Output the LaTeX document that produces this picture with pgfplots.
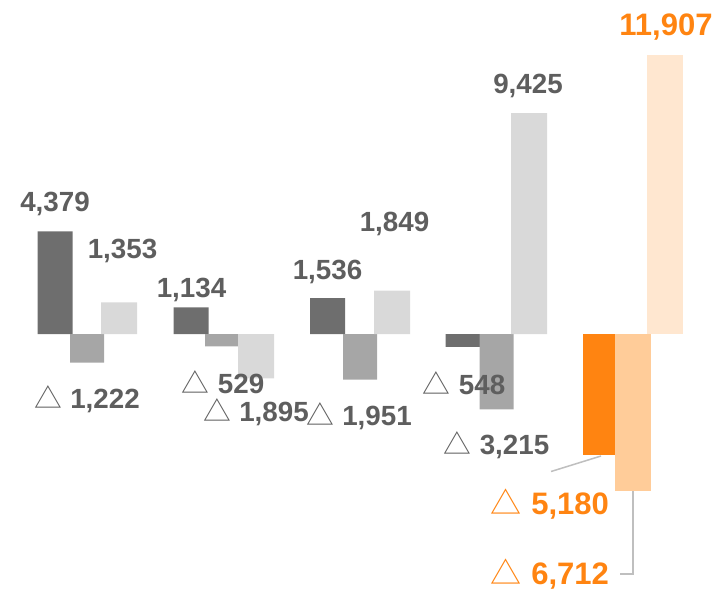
\documentclass[border=0pt]{standalone}
\usepackage{pgfplots}
\pgfplotsset{compat=1.18}
\usepackage{fontspec}
\setmainfont{Liberation Sans}
\newfontfamily\cjk{Noto Sans CJK JP}
\definecolor{txt}{HTML}{5E5E5E}
\definecolor{dk}{HTML}{6E6E6E}
\definecolor{md}{HTML}{A6A6A6}
\definecolor{lt}{HTML}{D9D9D9}
\definecolor{or}{HTML}{FF8411}
\definecolor{lor}{HTML}{FFCC99}
\definecolor{pch}{HTML}{FFE7D0}
\definecolor{ldr}{HTML}{BFBFBF}
\newcommand{\tri}{{\cjk\mdseries △}\hspace{0.3em}}
\tikzset{
  lab/.style={font=\fontsize{11}{13}\selectfont\bfseries, text=txt, inner sep=0pt},
  olab/.style={font=\fontsize{12.3}{14}\selectfont\bfseries, text=or, inner sep=0pt},
}
\begin{document}
\begin{tikzpicture}
\begin{axis}[
  scale only axis, width=10cm, height=8.203cm,
  xmin=0, xmax=718, ymin=-10883, ymax=14255,
  enlargelimits=false, hide axis, clip=false,
]
% gray series
\addplot[ybar, bar width=35, bar shift=0pt, fill=dk, draw=none] coordinates {(55,4379) (191,1134) (327.5,1536) (463,-548)};
\addplot[ybar, bar width=34, bar shift=0pt, fill=md, draw=none] coordinates {(87,-1222) (222,-529) (360,-1951) (496.5,-3215)};
\addplot[ybar, bar width=36, bar shift=0pt, fill=lt, draw=none] coordinates {(119,1353) (256,-1895) (392,1849) (529,9425)};
% orange series
\addplot[ybar, bar width=32, bar shift=0pt, fill=or, draw=none] coordinates {(599,-5180)};
\addplot[ybar, bar width=36, bar shift=0pt, fill=lor, draw=none] coordinates {(633,-6712)};
\addplot[ybar, bar width=36, bar shift=0pt, fill=pch, draw=none] coordinates {(665,11907)};
% leader lines
\draw[ldr, line width=0.6pt] (axis cs:601,-5207) -- (axis cs:551,-5869);
\draw[ldr, line width=0.6pt] (axis cs:633,-6712) -- (axis cs:633,-10243) -- (axis cs:620,-10243);
% labels
\node[lab] at (axis cs:55,5548) {4,379};
\node[lab] at (axis cs:122.5,3542) {1,353};
\node[lab] at (axis cs:87,-2774) {\tri 1,222};
\node[lab] at (axis cs:191.5,1878) {1,134};
\node[lab] at (axis cs:223,-2070) {\tri 529};
\node[lab] at (axis cs:256,-3350) {\tri 1,895};
\node[lab] at (axis cs:327.5,2646) {1,536};
\node[lab] at (axis cs:394.5,4695) {1,849};
\node[lab] at (axis cs:359,-3500) {\tri 1,951};
\node[lab] at (axis cs:464,-2091) {\tri 548};
\node[lab] at (axis cs:496.5,-4738) {\tri 3,215};
\node[lab] at (axis cs:528,10585) {9,425};
\node[olab] at (axis cs:666,13103) {11,907};
\node[olab] at (axis cs:550,-7256) {\tri 5,180};
\node[olab] at (axis cs:550,-10243) {\tri 6,712};
\end{axis}
\path (current axis.south west) rectangle (current axis.north east);
\end{tikzpicture}
\end{document}
